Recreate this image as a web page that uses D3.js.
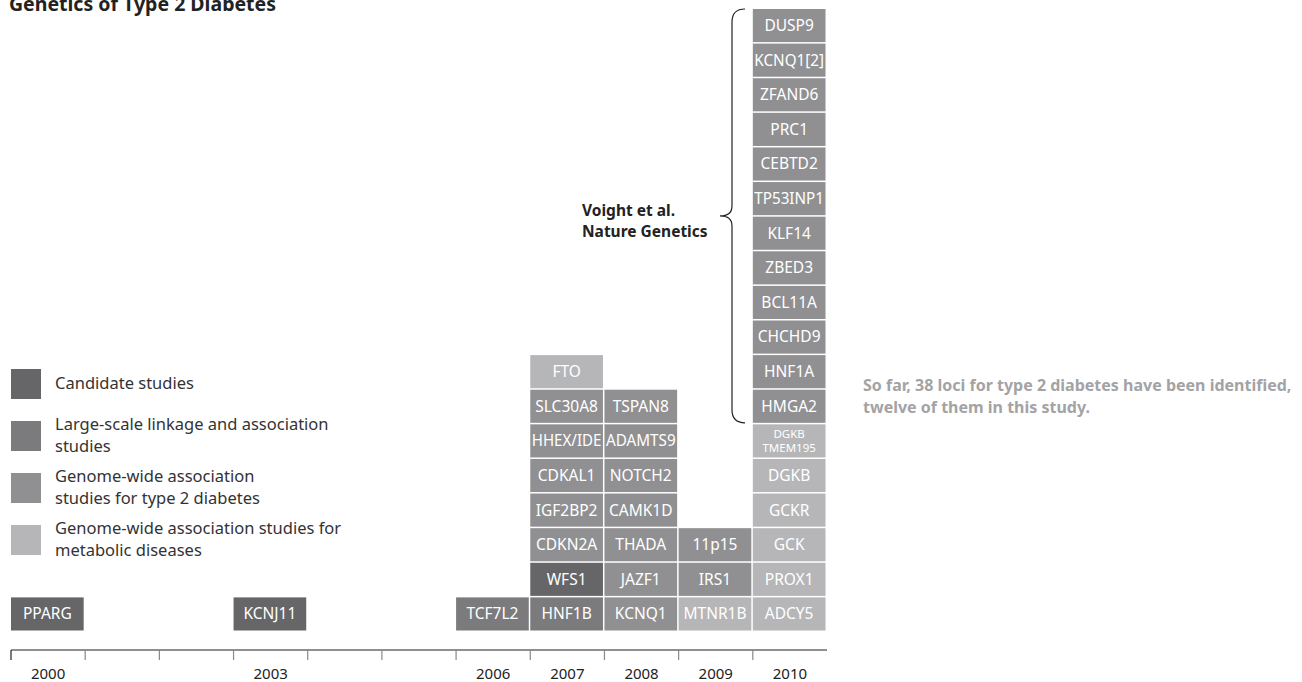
<!DOCTYPE html>
<html>
<head>
<meta charset="utf-8">
<script src="https://cdn.jsdelivr.net/npm/d3@7"></script>
<style>
  body { margin: 0; background: #fff; }
  text { font-family: "Noto Sans", sans-serif; }
</style>
</head>
<body>
<div id="chart"></div>
<script>
// Data
const years = [2000, 2001, 2002, 2003, 2004, 2005, 2006, 2007, 2008, 2009, 2010];
const labelledYears = [2000, 2003, 2006, 2007, 2008, 2009, 2010];
const categories = [
  "Candidate studies",
  "Large-scale linkage and association studies",
  "Genome-wide association studies for type 2 diabetes",
  "Genome-wide association studies for metabolic diseases"
];
// legend text is wrapped the same way as the original
const categoryLines = [
  ["Candidate studies"],
  ["Large-scale linkage and association", "studies"],
  ["Genome-wide association", "studies for type 2 diabetes"],
  ["Genome-wide association studies for", "metabolic diseases"]
];
// loci, listed bottom-up within each year
const lociNames = [
  "PPARG",
  "KCNJ11",
  "TCF7L2",
  "HNF1B", "WFS1", "CDKN2A", "IGF2BP2", "CDKAL1", "HHEX/IDE", "SLC30A8", "FTO",
  "KCNQ1", "JAZF1", "THADA", "CAMK1D", "NOTCH2", "ADAMTS9", "TSPAN8",
  "MTNR1B", "IRS1", "11p15",
  "ADCY5", "PROX1", "GCK", "GCKR", "DGKB", "DGKB|TMEM195",
  "HMGA2", "HNF1A", "CHCHD9", "BCL11A", "ZBED3", "KLF14", "TP53INP1", "CEBTD2", "PRC1", "ZFAND6", "KCNQ1[2]", "DUSP9"
];
const lociYears = [
  2000,
  2003,
  2006,
  2007, 2007, 2007, 2007, 2007, 2007, 2007, 2007,
  2008, 2008, 2008, 2008, 2008, 2008, 2008,
  2009, 2009, 2009,
  2010, 2010, 2010, 2010, 2010, 2010,
  2010, 2010, 2010, 2010, 2010, 2010, 2010, 2010, 2010, 2010, 2010, 2010
];
// 0 candidate, 1 large-scale, 2 GWAS T2D, 3 GWAS metabolic
const lociTypes = [
  0,
  0,
  1,
  1, 0, 2, 2, 2, 2, 2, 3,
  2, 2, 2, 2, 2, 2, 2,
  3, 2, 2,
  3, 3, 3, 3, 3, 3,
  2, 2, 2, 2, 2, 2, 2, 2, 2, 2, 2, 2
];
const voightStudy = ["HMGA2", "DUSP9"]; // first and last locus under the brace
const note = ["So far, 38 loci for type 2 diabetes have been identified,", "twelve of them in this study."];

const colors = ["#666668", "#7b7b7d", "#909092", "#b6b6b8"];

let width = 1302, height = 682;

let svg = d3.select("#chart")
    .append("svg")
    .attr("width", width)
    .attr("height", height);

// stack position of each locus within its year
const counts = {};
const loci = lociNames.map((name, i) => {
  const yr = lociYears[i];
  counts[yr] = (counts[yr] || 0);
  const d = {name: name, year: yr, type: lociTypes[i], level: counts[yr]};
  counts[yr] += 1;
  return d;
});

// Scales
const x = d3.scaleBand()
    .domain(years)
    .range([11, 827]);

const y = d3.scaleLinear()
    .domain([0, 18])
    .range([632, 9]);

const color = d3.scaleOrdinal()
    .domain(d3.range(categories.length))
    .range(colors);

// Title (cut at the top, as in the original)
svg.append("text")
    .attr("x", 9)
    .attr("y", 11)
    .style("font-size", "19.5px")
    .style("font-weight", "bold")
    .style("fill", "#222")
    .text("Genetics of Type 2 Diabetes");

// Cells
const cellW = x.bandwidth() - 1.5;
const cellH = y(0) - y(1) - 1.5;

const cell = svg.selectAll(".cell")
    .data(loci)
    .enter()
    .append("g")
    .attr("class", "cell");

cell.append("rect")
    .attr("x", d => x(d.year))
    .attr("y", d => y(d.level + 1))
    .attr("width", cellW)
    .attr("height", cellH)
    .attr("fill", d => color(d.type));

cell.each(function(d) {
  const g = d3.select(this);
  const cx = x(d.year) + cellW / 2;
  const cy = y(d.level + 1) + cellH / 2;
  const parts = d.name.split("|");
  const t = g.append("text")
      .attr("text-anchor", "middle")
      .style("fill", "#fff");
  if (parts.length === 1) {
    t.attr("x", cx)
        .attr("y", cy)
        .attr("dy", "0.35em")
        .style("font-size", "15.5px")
        .text(d.name);
    // squeeze labels that would not fit the cell
    if (t.node().getComputedTextLength() > cellW - 3) {
      t.attr("textLength", cellW - 3).attr("lengthAdjust", "spacingAndGlyphs");
    }
  } else {
    // two stacked names in one small cell
    t.style("font-size", "11.5px");
    parts.forEach((p, k) => {
      t.append("tspan")
          .attr("x", cx)
          .attr("y", cy + (k - 0.5) * 14)
          .attr("dy", "0.35em")
          .text(p);
    });
  }
});

// Axis
const axisY = 650;
const axis = svg.append("g")
    .attr("transform", `translate(0, ${axisY})`);

axis.append("line")
    .attr("x1", x.range()[0])
    .attr("x2", x.range()[1])
    .attr("stroke", "#222")
    .attr("stroke-width", 1.2);

axis.selectAll(".tick")
    .data(years)
    .enter()
    .append("line")
    .attr("class", "tick")
    .attr("x1", d => x(d))
    .attr("x2", d => x(d))
    .attr("y1", 0)
    .attr("y2", 10)
    .attr("stroke", (d, i) => i === 0 ? "#222" : "#888")
    .attr("stroke-width", 1.2);

axis.selectAll(".year")
    .data(labelledYears)
    .enter()
    .append("text")
    .attr("class", "year")
    .attr("x", d => x(d) + x.bandwidth() / 2)
    .attr("y", 24)
    .attr("dy", "0.35em")
    .attr("text-anchor", "middle")
    .style("font-size", "15px")
    .style("fill", "#222")
    .text(d => d);

// Legend
const legend = svg.selectAll(".legend")
    .data(categoryLines)
    .enter()
    .append("g")
    .attr("class", "legend")
    .attr("transform", (d, i) => `translate(11, ${369 + i * 52})`);

legend.append("rect")
    .attr("width", 30)
    .attr("height", 30)
    .attr("fill", (d, i) => color(i));

legend.each(function(lines) {
  const g = d3.select(this);
  const top = lines.length === 1 ? 14 : 3;
  lines.forEach((l, k) => {
    g.append("text")
        .attr("x", 44)
        .attr("y", top + k * 22)
        .attr("dy", "0.35em")
        .style("font-size", "16.5px")
        .style("fill", "#333")
        .text(l);
  });
});

// Brace for Voight et al.
const first = loci.find(d => d.name === voightStudy[0]);
const last = loci.find(d => d.name === voightStudy[1]);
const bTop = y(last.level + 1);
const bBot = y(first.level) - 1.5;
const bMid = (bTop + bBot) / 2;
const bx = 732;
const brace = d3.path();
brace.moveTo(bx + 13, bTop);
brace.quadraticCurveTo(bx, bTop, bx, bTop + 13);
brace.lineTo(bx, bMid - 10);
brace.quadraticCurveTo(bx, bMid, bx - 12, bMid);
brace.quadraticCurveTo(bx, bMid, bx, bMid + 10);
brace.lineTo(bx, bBot - 13);
brace.quadraticCurveTo(bx, bBot, bx + 13, bBot);

svg.append("path")
    .attr("d", brace.toString())
    .attr("fill", "none")
    .attr("stroke", "#222")
    .attr("stroke-width", 1.2);

["Voight et al.", "Nature Genetics"].forEach((l, k) => {
  svg.append("text")
      .attr("x", 582)
      .attr("y", bMid + k * 21)
      .style("font-size", "15.5px")
      .style("font-weight", "bold")
      .style("fill", "#222")
      .text(l);
});

// Side note
svg.selectAll(".note")
    .data(note)
    .enter()
    .append("text")
    .attr("class", "note")
    .attr("x", 863)
    .attr("y", (d, i) => 385 + i * 22)
    .attr("dy", "0.35em")
    .style("font-size", "16px")
    .style("font-weight", "bold")
    .style("fill", "#a3a3a5")
    .text(d => d);
</script>
</body>
</html>
